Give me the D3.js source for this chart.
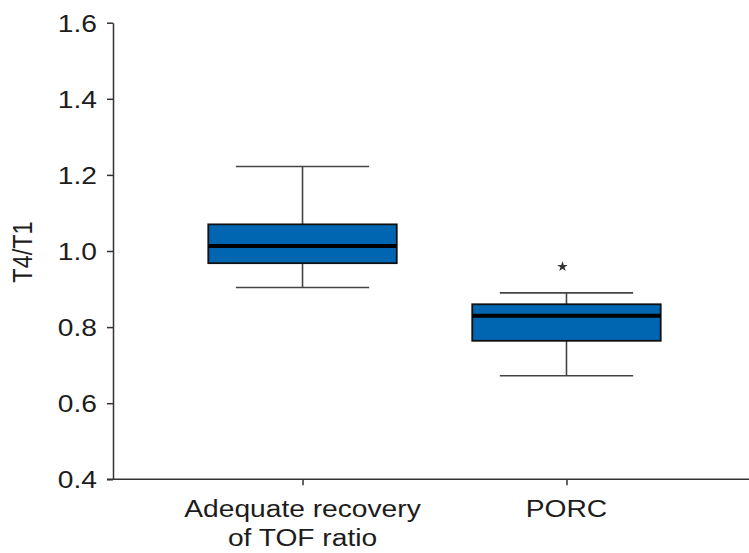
<!DOCTYPE html>
<html>
<head>
<meta charset="utf-8">
<script src="https://cdn.jsdelivr.net/npm/d3@7"></script>
<style>
  html, body { margin: 0; padding: 0; background: #fff; }
  svg { display: block; }
  text { font-family: "Liberation Sans", Arial, Helvetica, sans-serif; fill: #1c1c1c; }
</style>
</head>
<body>
<svg id="chart" width="749" height="553"></svg>
<script>
// ---- data ----
const categories = ["Adequate recovery\nof TOF ratio", "PORC"];
const whiskerLow  = [0.904, 0.672];
const q1          = [0.968, 0.764];
const median      = [1.013, 0.830];
const q3          = [1.070, 0.860];
const whiskerHigh = [1.222, 0.890];
const outliers    = [[], [0.959]];
const yTicks      = [0.4, 0.6, 0.8, 1.0, 1.2, 1.4, 1.6];
const yLabel      = "T4/T1";

// ---- layout ----
const svg = d3.select("#chart");
const W = 749, H = 553;
const x0 = 113, yTop = 22.7, yBot = 479.3;
const SX = 1.15; // horizontal stretch of text in the reference

const y = d3.scaleLinear().domain([0.4, 1.6]).range([yBot, yTop]);
const x = d3.scalePoint().domain(categories).range([x0, 756]).padding(0.718);
const boxW = x.step() * 0.714;
const capW = x.step() * 0.505;

// y axis
const gy = svg.append("g").attr("transform", `translate(${x0},0)`)
  .call(d3.axisLeft(y).tickValues(yTicks).tickFormat(d3.format(".1f"))
        .tickSize(6).tickSizeOuter(0).tickPadding(10));
gy.select(".domain").attr("stroke", "#333").attr("stroke-width", 1.5);
gy.selectAll(".tick line").attr("stroke", "#333").attr("stroke-width", 1.5);
gy.selectAll(".tick text")
  .attr("font-size", 24.5).attr("font-family", null).attr("fill", "#1c1c1c")
  .attr("x", -16 / SX).attr("dy", "0.34em")
  .attr("transform", `scale(${SX},1)`);

// x axis
const gx = svg.append("g").attr("transform", `translate(0,${yBot})`)
  .call(d3.axisBottom(x).tickSize(6).tickSizeOuter(0).tickFormat(""));
gx.select(".domain").remove();
gx.selectAll(".tick line").attr("stroke", "#333").attr("stroke-width", 1.5);
svg.append("line")
  .attr("x1", 107).attr("x2", W).attr("y1", yBot).attr("y2", yBot)
  .attr("stroke", "#333").attr("stroke-width", 1.5);

// x labels
categories.forEach(c => {
  const lines = c.split("\n");
  const t = svg.append("text")
    .attr("text-anchor", "middle")
    .attr("font-size", 24.5)
    .attr("transform", `translate(${x(c)},516.5) scale(${SX},1)`);
  lines.forEach((ln, i) => {
    t.append("tspan").attr("x", 0).attr("y", i * 30).text(ln);
  });
});

// y label
svg.append("text")
  .attr("text-anchor", "middle")
  .attr("font-size", 23.5)
  .attr("transform", `translate(32,252) rotate(-90) scale(1,${SX})`)
  .text(yLabel);

// boxes
const g = svg.append("g");
categories.forEach((c, i) => {
  const cx = x(c);
  // whiskers
  g.append("line").attr("x1", cx).attr("x2", cx)
    .attr("y1", y(whiskerHigh[i])).attr("y2", y(q3[i]))
    .attr("stroke", "#444").attr("stroke-width", 1.6);
  g.append("line").attr("x1", cx).attr("x2", cx)
    .attr("y1", y(q1[i])).attr("y2", y(whiskerLow[i]))
    .attr("stroke", "#444").attr("stroke-width", 1.6);
  [whiskerHigh[i], whiskerLow[i]].forEach(v => {
    g.append("line").attr("x1", cx - capW / 2).attr("x2", cx + capW / 2)
      .attr("y1", y(v)).attr("y2", y(v))
      .attr("stroke", "#444").attr("stroke-width", 1.6);
  });
  // box
  g.append("rect")
    .attr("x", cx - boxW / 2).attr("width", boxW)
    .attr("y", y(q3[i])).attr("height", y(q1[i]) - y(q3[i]))
    .attr("fill", "#0066B1").attr("stroke", "#111").attr("stroke-width", 1.8);
  // median
  g.append("line").attr("x1", cx - boxW / 2).attr("x2", cx + boxW / 2)
    .attr("y1", y(median[i])).attr("y2", y(median[i]))
    .attr("stroke", "#000").attr("stroke-width", 4);
  // outliers
  outliers[i].forEach(v => {
    g.append("path")
      .attr("d", d3.symbol().type(d3.symbolStar).size(34)())
      .attr("transform", `translate(${cx - 4},${y(v)})`)
      .attr("fill", "#333");
  });
});
</script>
</body>
</html>
